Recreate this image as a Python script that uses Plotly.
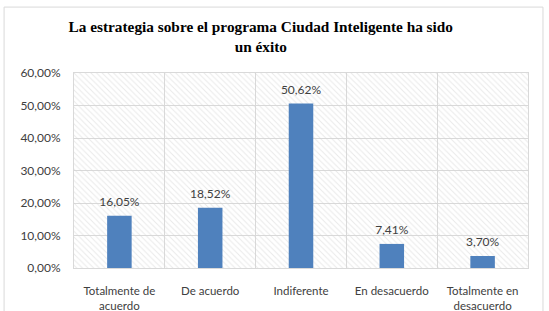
import plotly.graph_objects as go

categories = ["Totalmente de<br>acuerdo", "De acuerdo", "Indiferente", "En desacuerdo", "Totalmente en<br>desacuerdo"]
values = [0.1605, 0.1852, 0.5062, 0.0741, 0.0370]
tick_vals = [0, 0.1, 0.2, 0.3, 0.4, 0.5, 0.6]
axis_max = 0.6
title_text = "<b>La estrategia sobre el programa Ciudad Inteligente ha sido<br>un éxito</b>"

fig = go.Figure()
# hatched plot-area background, one full-width cell per category
fig.add_trace(go.Bar(
    x=categories, y=[axis_max] * len(categories), width=1,
    marker=dict(color="rgba(0,0,0,0)", line=dict(width=0),
                pattern=dict(shape="\\", fgcolor="#d4d4d4", bgcolor="rgba(0,0,0,0)",
                             size=4, solidity=0.25)),
    hoverinfo="skip",
))
fig.add_trace(go.Bar(
    x=categories, y=values, width=0.27,
    marker=dict(color="#4F81BD", line=dict(width=0)),
    hoverinfo="skip",
))
# data labels above bars
fig.add_trace(go.Scatter(
    x=categories, y=values, mode="markers+text",
    marker=dict(size=9, color="rgba(0,0,0,0)"),
    texttemplate="%{y:.2%}", textposition="top center",
    textfont=dict(family="Lato", size=12, color="#404040"),
    cliponaxis=False, hoverinfo="skip",
))

fig.update_layout(
    width=549, height=311, barmode="overlay",
    margin=dict(l=74, r=21, t=73, b=43, autoexpand=False),
    paper_bgcolor="white", plot_bgcolor="white",
    separators=",.",
    showlegend=False,
    title=dict(text=title_text, x=0.475, xanchor="center", y=0.897, yanchor="top",
               font=dict(family="Liberation Serif", size=15.3, color="#000000")),
    font=dict(family="Lato", size=12, color="#595959"),
    shapes=[dict(type="rect", xref="paper", yref="paper", x0=-0.154, x1=1.033, y0=-0.3, y1=1.338,
                 line=dict(color="#d9d9d9", width=1), fillcolor="rgba(0,0,0,0)", layer="below")],
)
fig.update_xaxes(tickson="boundaries", showgrid=True, gridcolor="#d9d9d9", gridwidth=1,
                 showline=True, linecolor="#d9d9d9", mirror=True, ticks="",
                 range=[-0.5, 4.5], ticklabelstandoff=12, automargin=False,
                 tickfont=dict(family="Lato", size=11.5, color="#404040"))
fig.update_yaxes(range=[0, axis_max], tickvals=tick_vals, tickformat=".2%", showgrid=True,
                 gridcolor="#d9d9d9", gridwidth=1, showline=True, linecolor="#d9d9d9",
                 mirror=True, zeroline=False, ticks="", ticklabelstandoff=10, automargin=False,
                 tickfont=dict(family="Lato", size=12, color="#404040"))

fig.write_html("out.html")
